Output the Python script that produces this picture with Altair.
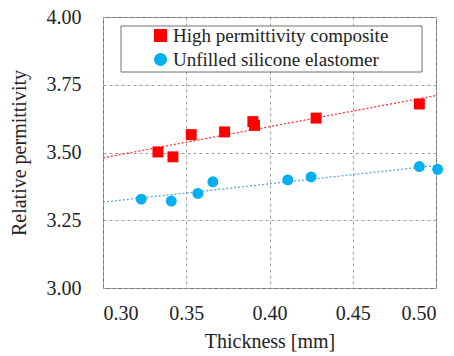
import altair as alt
import pandas as pd

series_names = ["High permittivity composite", "Unfilled silicone elastomer"]

hp_thickness = [0.333, 0.342, 0.353, 0.373, 0.390, 0.391, 0.428, 0.490]
hp_perm = [3.502, 3.484, 3.566, 3.576, 3.614, 3.600, 3.627, 3.679]

uf_thickness = [0.323, 0.341, 0.357, 0.366, 0.411, 0.425, 0.490, 0.501]
uf_perm = [3.328, 3.321, 3.349, 3.392, 3.399, 3.410, 3.448, 3.438]

x_ticks = [0.30, 0.35, 0.40, 0.45, 0.50]
y_ticks = [3.00, 3.25, 3.50, 3.75, 4.00]

df = pd.DataFrame({
    "t": hp_thickness + uf_thickness,
    "p": hp_perm + uf_perm,
    "s": [series_names[0]] * len(hp_thickness) + [series_names[1]] * len(uf_thickness),
})

FONT = "Times New Roman, Liberation Serif, serif"
colors = ["#FF0000", "#00B0F0"]

xs = alt.X("t:Q", title="Thickness [mm]",
           scale=alt.Scale(domain=[0.30, 0.50], nice=False, zero=False),
           axis=alt.Axis(values=x_ticks, format=".2f", ticks=False, domain=False,
                         labelPadding=15, titlePadding=8, gridDash=[3, 3], gridColor="#a0a0a0"))
ys = alt.Y("p:Q", title="Relative permittivity",
           scale=alt.Scale(domain=[3.0, 4.0], nice=False, zero=False),
           axis=alt.Axis(values=y_ticks, format=".2f", ticks=False, domain=False,
                         labelPadding=22, titlePadding=17, gridDash=[3, 3], gridColor="#a0a0a0"))

base = alt.Chart(df)

lines = base.transform_regression("t", "p", groupby=["s"], extent=[0.30, 0.50]).transform_calculate(
    ls="'line ' + datum.s"
).mark_line(
    strokeDash=[2, 2], strokeWidth=1.3
).encode(
    x=xs, y=ys,
    color=alt.Color("ls:N", scale=alt.Scale(domain=["line " + n for n in series_names],
                                            range=["#FF3030", "#5BA8E0"]), legend=None),
)

box = alt.Chart(pd.DataFrame({"a": [0]})).mark_rect(
    fill="white", stroke="#707070", strokeWidth=1
).encode(x=alt.value(18), x2=alt.value(319), y=alt.value(9), y2=alt.value(55))

leg = alt.Legend(title=None, orient="none", legendX=48, legendY=9,
                 padding=0, labelFont=FONT, labelFontSize=19, labelLimit=400,
                 labelColor="#222", symbolSize=170, labelOffset=3,
                 rowPadding=4, symbolOpacity=1)

points = base.mark_point(filled=True, opacity=1, size=120).encode(
    x=xs, y=ys,
    fill=alt.Fill("s:N", scale=alt.Scale(domain=series_names, range=colors), legend=leg),
    shape=alt.Shape("s:N", scale=alt.Scale(domain=series_names, range=["square", "circle"]), legend=leg),
)

chart = alt.layer(lines, box, points).resolve_scale(color="independent").properties(
    width=333, height=271,
    autosize=alt.AutoSizeParams(type="none"),
    padding={"left": 95, "top": 9, "right": 10, "bottom": 64},
).configure_view(stroke="#707070", strokeWidth=1).configure_axis(
    labelFont=FONT, titleFont=FONT, labelFontSize=20, titleFontSize=20,
    labelColor="#222", titleColor="#222", titleFontWeight="normal"
).configure_legend(symbolStrokeWidth=0, symbolStrokeColor="transparent")

chart.save("out.html", embed_options={"renderer": "svg", "actions": False})
